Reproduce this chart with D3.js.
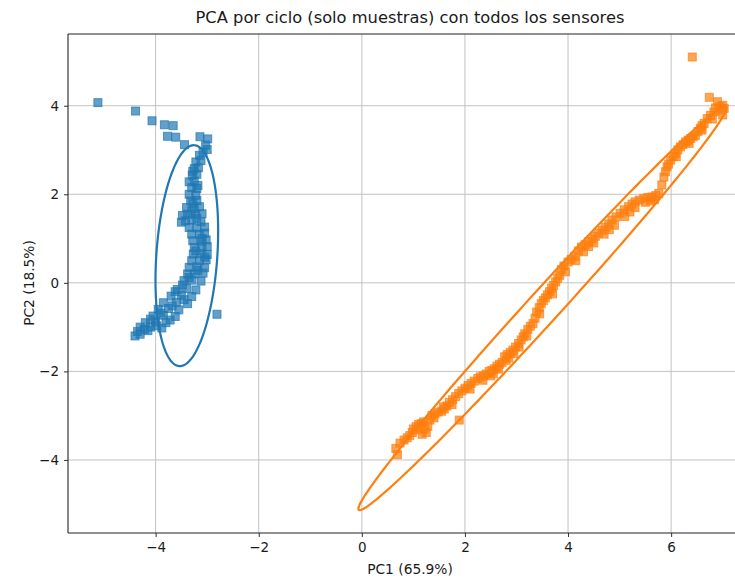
<!DOCTYPE html>
<html>
<head>
<meta charset="utf-8">
<script src="https://cdn.jsdelivr.net/npm/d3@7"></script>
<style>
  body { margin: 0; background: #fff; }
  text { font-family: "DejaVu Sans", sans-serif; fill: #1a1a1a; }
</style>
</head>
<body>
<svg id="chart" width="735" height="578"></svg>
<script>
// PCA scores per cycle (PC1, PC2)
const ciclo1 = [
  [-5.12,4.07],[-4.39,3.88],[-4.07,3.66],[-3.83,3.57],[-3.66,3.55],[-3.77,3.31],[-3.61,3.29],
  [-3.44,3.12],[-3.14,3.30],[-2.99,3.25],[-3.03,3.11],[-3.00,3.01],[-3.15,2.88],[-3.08,2.95],
  [-3.22,2.73],[-3.12,2.76],[-3.25,2.58],[-3.17,2.60],[-3.29,2.43],[-3.20,2.45],[-3.35,2.28],
  [-3.25,2.30],[-3.30,2.15],[-3.20,2.13],[-3.35,2.00],[-3.22,1.98],[-3.32,1.85],[-3.20,1.86],
  [-3.28,1.80],[-3.40,1.70],[-3.25,1.68],[-3.15,1.72],[-3.48,1.52],[-3.38,1.55],[-3.22,1.55],
  [-3.10,1.56],[-3.50,1.37],[-3.42,1.40],[-3.30,1.42],[-3.12,1.38],[-3.35,1.25],[-3.20,1.24],
  [-3.05,1.26],[-3.30,1.10],[-3.15,1.10],[-3.05,1.12],[-3.28,0.95],[-3.12,0.94],[-3.02,0.97],
  [-3.25,0.80],[-3.10,0.80],[-3.00,0.82],[-3.27,0.65],[-3.12,0.66],[-3.00,0.64],[-3.30,0.50],
  [-3.15,0.50],[-3.02,0.52],[-3.35,0.35],[-3.20,0.36],[-3.05,0.34],[-3.38,0.20],[-3.25,0.20],
  [-3.08,0.22],[-3.45,0.05],[-3.30,0.06],[-3.12,0.04],[-3.58,-0.15],[-3.40,-0.13],[-3.22,-0.16],
  [-3.70,-0.30],[-3.50,-0.28],[-3.30,-0.31],[-3.85,-0.45],[-3.60,-0.44],[-3.38,-0.47],
  [-3.95,-0.60],[-3.75,-0.58],[-3.55,-0.61],[-4.05,-0.75],[-3.85,-0.73],[-3.62,-0.76],
  [-4.20,-0.90],[-4.00,-0.88],[-3.80,-0.90],[-4.30,-1.00],[-4.10,-1.00],[-3.88,-1.02],
  [-4.35,-1.10],[-4.15,-1.08],[-4.40,-1.20],[-2.81,-0.71],
  [-3.18,2.20],[-3.28,2.52],[-3.30,1.62],[-3.20,1.45],[-3.10,1.00],[-3.22,0.72],[-3.05,0.58],
  [-3.18,0.28],[-3.35,0.12],[-3.48,-0.05],[-3.62,-0.20],[-3.45,-0.38],[-3.68,-0.52],
  [-3.90,-0.68],[-4.10,-0.82],[-3.72,-0.84],[-3.98,-0.97],[-4.22,-1.05],[-4.30,-1.16]
];
const ciclo2 = [
  [0.66,-3.74],[0.69,-3.88],[0.74,-3.62],[0.82,-3.55],[0.88,-3.50],[0.93,-3.45],[0.98,-3.38],
  [1.05,-3.25],[1.10,-3.20],[1.08,-3.32],[1.15,-3.18],[1.20,-3.14],[1.17,-3.42],[1.22,-3.30],
  [1.28,-3.24],[1.32,-3.10],[1.36,-3.00],[1.42,-2.96],[1.48,-2.92],[1.55,-2.90],[1.60,-2.85],
  [1.65,-2.78],[1.70,-2.70],[1.76,-2.64],[1.82,-2.57],[1.89,-3.10],[1.88,-2.50],[1.94,-2.44],
  [2.00,-2.38],[2.06,-2.32],[2.12,-2.27],[2.18,-2.22],[2.25,-2.16],[2.30,-2.12],[2.36,-2.10],
  [2.41,-2.06],[2.47,-2.00],[2.52,-1.98],[2.57,-1.94],[2.62,-1.88],[2.67,-1.84],[2.72,-1.80],
  [2.50,-2.10],[2.65,-1.95],[2.80,-1.75],[2.95,-1.60],[3.05,-1.45],[2.85,-1.70],
  [2.77,-1.67],[2.82,-1.62],[2.88,-1.57],[2.93,-1.52],[2.98,-1.45],[3.04,-1.37],[3.09,-1.29],
  [3.13,-1.22],[3.16,-1.15],[3.22,-1.05],[3.27,-0.98],[3.32,-0.92],[3.36,-0.80],[3.39,-0.66],
  [3.44,-0.56],[3.48,-0.47],[3.52,-0.40],[3.56,-0.34],[3.60,-0.27],[3.64,-0.20],[3.68,-0.12],
  [3.72,-0.06],[3.76,0.02],[3.80,0.10],[3.84,0.17],[3.87,0.30],[3.92,0.38],[4.00,0.47],
  [4.06,0.53],[4.13,0.60],[4.20,0.72],[4.26,0.81],[4.33,0.86],[4.40,0.93],[4.47,0.99],
  [4.53,1.05],[4.59,1.12],[4.66,1.19],[4.72,1.26],[4.79,1.33],[4.85,1.42],[4.93,1.49],
  [5.01,1.57],[5.09,1.65],[5.17,1.72],[5.24,1.78],[5.30,1.83],[5.38,1.87],[5.47,1.91],
  [5.55,1.93],[5.63,1.94],[5.70,1.97],[5.76,2.02],[4.30,0.70],[4.50,0.90],[4.70,1.10],
  [4.90,1.30],[5.10,1.50],[5.30,1.70],[5.50,1.82],[5.68,1.88],
  [5.82,2.21],[5.86,2.39],[5.89,2.51],[5.92,2.62],[5.95,2.68],[5.99,2.77],[6.04,2.85],
  [6.08,2.92],[6.13,3.00],[6.18,3.07],[6.23,3.12],[6.28,3.18],[6.33,3.22],[6.38,3.26],
  [6.43,3.30],[6.47,3.33],[6.52,3.42],[6.57,3.49],[6.60,3.55],[6.64,3.60],[6.70,3.71],
  [6.76,3.78],[6.83,3.86],[6.93,3.90],[7.00,3.79],[7.03,3.94],[7.00,4.01],[6.90,4.09],
  [6.74,4.19],[6.95,3.98],[6.86,3.95],[6.41,5.10],
  [1.00,-3.30],[1.25,-3.38],[1.40,-3.05],[1.58,-2.80],[1.75,-2.75],[2.10,-2.40],[2.35,-2.20],
  [2.55,-2.05],[3.20,-1.20],[3.45,-0.70],[3.70,-0.25],[3.95,0.25],[4.15,0.50],[4.40,0.82],
  [4.80,1.20],[5.20,1.60],[5.60,1.85],[6.10,2.85],[6.35,3.15],[6.60,3.45],[6.80,3.70]
];
const seriesColors = ["#1f77b4", "#ff7f0e"];

// Confidence ellipses: centre plus two conjugate semi-axis vectors (data units)
const ellipseCenters = [[-3.395, 0.614], [3.505, -0.575]];
const ellipseAxisA   = [[0.146, 2.494], [3.565, 4.555]];
const ellipseAxisB   = [[0.590, -0.045], [0.230, -0.242]];

const xTicks = [-4, -2, 0, 2, 4, 6];
const yTicks = [-4, -2, 0, 2, 4];

const title = "PCA por ciclo (solo muestras) con todos los sensores";
const xLabel = "PC1 (65.9%)";
const yLabel = "PC2 (18.5%)";

const svg = d3.select("#chart");
const plotLeft = 68, plotTop = 34, plotBottom = 533;
const x = d3.scaleLinear().domain([-5.70, 7.60]).range([plotLeft, plotLeft + 13.3 * 51.55]);
const y = d3.scaleLinear().domain([-5.65, 5.62]).range([plotBottom, plotTop]);
const plotRight = x.range()[1];

// grid
const grid = svg.append("g").attr("stroke", "#c2c2c2").attr("stroke-width", 1);
grid.selectAll(".gx").data(xTicks).join("line").attr("class", "gx")
  .attr("x1", d => x(d)).attr("x2", d => x(d)).attr("y1", plotTop).attr("y2", plotBottom);
grid.selectAll(".gy").data(yTicks).join("line").attr("class", "gy")
  .attr("y1", d => y(d)).attr("y2", d => y(d)).attr("x1", plotLeft).attr("x2", plotRight);

// points
[ciclo1, ciclo2].forEach((pts, i) => {
  const s = 8;
  svg.append("g").selectAll("rect").data(pts).join("rect")
    .attr("x", d => x(d[0]) - s / 2).attr("y", d => y(d[1]) - s / 2)
    .attr("width", s).attr("height", s)
    .attr("fill", seriesColors[i]).attr("fill-opacity", 0.7)
    .attr("stroke", seriesColors[i]).attr("stroke-opacity", 0.7).attr("stroke-width", 1);
});

// ellipses
const steps = d3.range(0, 361, 2).map(a => a * Math.PI / 180);
const line = d3.line().x(d => x(d[0])).y(d => y(d[1]));
ellipseCenters.forEach((c, i) => {
  const A = ellipseAxisA[i], B = ellipseAxisB[i];
  const pts = steps.map(t => [c[0] + Math.cos(t) * A[0] + Math.sin(t) * B[0],
                              c[1] + Math.cos(t) * A[1] + Math.sin(t) * B[1]]);
  svg.append("path").attr("d", line(pts)).attr("fill", "none")
    .attr("stroke", seriesColors[i]).attr("stroke-width", 2.2);
});

// axes
const fmt = d => d3.format("d")(d).replace("-", "\u2212");
const xAxis = svg.append("g").attr("transform", `translate(0,${plotBottom})`)
  .call(d3.axisBottom(x).tickValues(xTicks).tickFormat(fmt).tickSize(4).tickPadding(5));
const yAxis = svg.append("g").attr("transform", `translate(${plotLeft},0)`)
  .call(d3.axisLeft(y).tickValues(yTicks).tickFormat(fmt).tickSize(4).tickPadding(5));
[xAxis, yAxis].forEach(g => {
  g.select(".domain").remove();
  g.selectAll("line").attr("stroke", "#333");
  g.selectAll("text").style("font-family", "DejaVu Sans").style("font-size", "13.5px").attr("fill", "#1a1a1a");
});

// spines
const spines = svg.append("g").attr("stroke", "#222").attr("stroke-width", 1.1).attr("fill", "none");
spines.append("line").attr("x1", plotLeft).attr("x2", plotLeft).attr("y1", plotTop).attr("y2", plotBottom);
spines.append("line").attr("x1", plotLeft).attr("x2", plotRight).attr("y1", plotBottom).attr("y2", plotBottom);
spines.append("line").attr("x1", plotLeft).attr("x2", plotRight).attr("y1", plotTop).attr("y2", plotTop);

// labels
svg.append("text").attr("x", 410).attr("y", 23).attr("text-anchor", "middle")
  .style("font-size", "16.3px").text(title);
svg.append("text").attr("x", 410).attr("y", 574).attr("text-anchor", "middle")
  .style("font-size", "13.8px").text(xLabel);
svg.append("text").attr("transform", "translate(34,283) rotate(-90)").attr("text-anchor", "middle")
  .style("font-size", "13.8px").text(yLabel);
</script>
</body>
</html>
